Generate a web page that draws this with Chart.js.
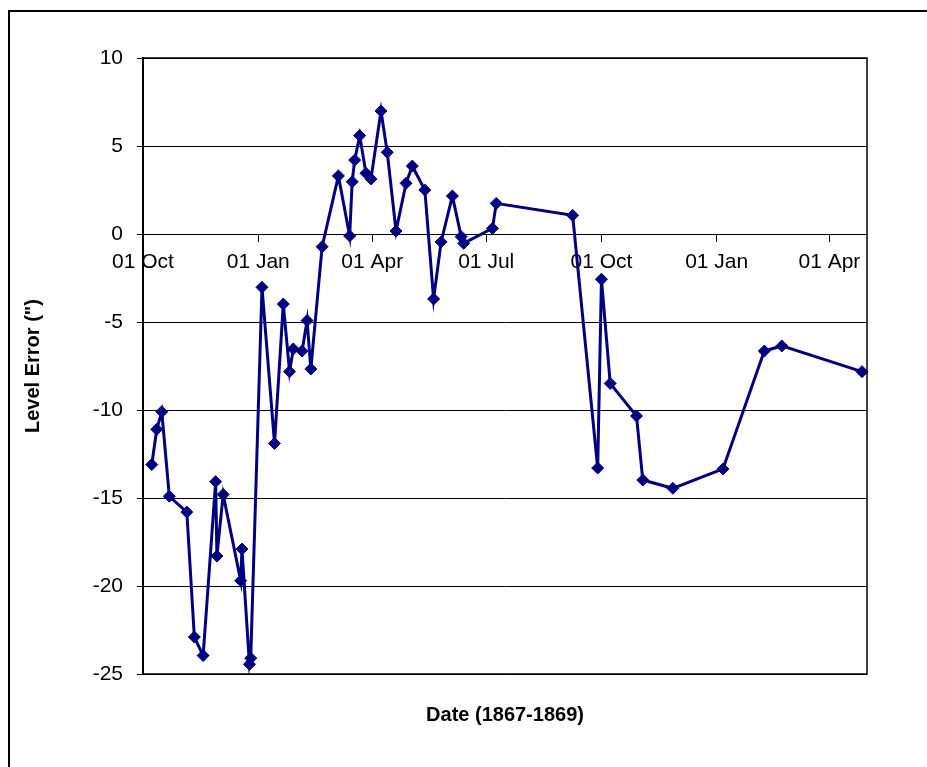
<!DOCTYPE html>
<html>
<head>
<meta charset="utf-8">
<script src="https://cdn.jsdelivr.net/npm/chart.js@4/dist/chart.umd.min.js"></script>
<style>
  html, body { margin: 0; padding: 0; background: #fff; overflow: hidden; }
  #frame { position: absolute; left: 8px; top: 10px; width: 1000px; height: 1000px;
           border-left: 2px solid #000; border-top: 2px solid #000; }
  #chart { position: absolute; left: 0; top: 0; }
</style>
</head>
<body>
<div id="frame"></div>
<canvas id="chart" width="927" height="767"></canvas>
<script>
// Observation dates and level error (seconds of arc)
const obsDates = [
  '1867-10-08', '1867-10-12', '1867-10-16', '1867-10-22', '1867-11-05', '1867-11-11',
  '1867-11-18', '1867-11-28', '1867-11-29', '1867-12-04', '1867-12-18', '1867-12-19',
  '1867-12-25', '1867-12-26', '1868-01-04', '1868-01-14', '1868-01-21', '1868-01-26',
  '1868-01-29', '1868-02-05', '1868-02-09', '1868-02-12', '1868-02-21', '1868-03-05',
  '1868-03-14', '1868-03-16', '1868-03-18', '1868-03-22', '1868-03-27', '1868-03-31',
  '1868-04-08', '1868-04-13', '1868-04-20', '1868-04-28', '1868-05-03', '1868-05-13',
  '1868-05-20', '1868-05-26', '1868-06-04', '1868-06-11', '1868-06-13', '1868-07-06',
  '1868-07-09', '1868-09-08', '1868-09-28', '1868-10-01', '1868-10-08', '1868-10-29',
  '1868-11-03', '1868-11-27', '1869-01-06', '1869-02-08', '1869-02-22', '1869-04-27'
];
const levelError = [
  -13.1, -11.1, -10.1, -14.9, -15.8, -22.9,
  -23.95, -14.07, -18.3, -14.8, -19.7, -17.9,
  -24.45, -24.1, -3.03, -11.9, -3.98, -7.82,
  -6.53, -6.65, -4.92, -7.67, -0.72, 3.3,
  -0.11, 2.97, 4.2, 5.59, 3.45, 3.13,
  6.99, 4.64, 0.17, 2.88, 3.86, 2.5,
  -3.69, -0.45, 2.16, -0.15, -0.53, 0.32,
  1.74, 1.06, -13.3, -2.57, -8.49, -10.34,
  -13.98, -14.45, -13.35, -6.65, -6.36, -7.82
];

// Axis ticks
const tickDates = ['1867-10-01', '1868-01-01', '1868-04-01', '1868-07-01', '1868-10-01', '1869-01-01', '1869-04-01'];
const tickLabels = ['01 Oct', '01 Jan', '01 Apr', '01 Jul', '01 Oct', '01 Jan', '01 Apr'];
const axisStart = '1867-10-01';
const axisEnd = '1869-05-01';
const yTicks = [-25, -20, -15, -10, -5, 0, 5, 10];

// days since axis start
const toDay = s => {
  const [y, m, d] = s.split('-').map(Number);
  const [y0, m0, d0] = axisStart.split('-').map(Number);
  return (Date.UTC(y, m - 1, d) - Date.UTC(y0, m0 - 1, d0)) / 86400000;
};
const tickDays = tickDates.map(toDay);

const font = 'Liberation Sans, Arial, sans-serif';
const navy = '#000080';

const frameBox = {
  id: 'frameBox',
  afterDraw(chart) {
    const { ctx, chartArea: a } = chart;
    ctx.save();
    ctx.strokeStyle = '#000';
    ctx.lineWidth = 1.5;
    ctx.strokeRect(a.left, a.top, a.right - a.left, a.bottom - a.top);
    ctx.restore();
  }
};

new Chart(document.getElementById('chart'), {
  type: 'line',
  data: {
    datasets: [{
      data: obsDates.map((d, i) => ({ x: toDay(d), y: levelError[i] })),
      borderColor: navy,
      backgroundColor: navy,
      borderWidth: 3,
      pointStyle: 'rectRot',
      pointRadius: 6,
      pointBorderWidth: 1,
      pointBackgroundColor: navy,
      pointBorderColor: navy,
      tension: 0,
      clip: false
    }]
  },
  options: {
    responsive: false,
    animation: false,
    layout: { padding: { top: 58, right: 60, left: 0, bottom: 0 } },
    plugins: { legend: { display: false }, tooltip: { enabled: false } },
    scales: {
      x: {
        type: 'linear',
        position: { y: 0 },
        min: 0,
        max: toDay(axisEnd),
        afterBuildTicks: s => { s.ticks = tickDays.map(v => ({ value: v })); },
        ticks: {
          autoSkip: false,
          maxRotation: 0,
          padding: 9,
          color: '#000',
          font: { family: font, size: 21 },
          callback: v => tickLabels[tickDays.indexOf(v)]
        },
        grid: { drawOnChartArea: false, drawTicks: true, tickLength: 7, color: '#000', lineWidth: 1 },
        border: { display: true, color: '#000', width: 1 }
      },
      x2: {
        type: 'linear',
        axis: 'x',
        position: 'bottom',
        min: 0,
        max: toDay(axisEnd),
        ticks: { display: false },
        grid: { display: false },
        border: { display: false },
        title: {
          display: true,
          text: 'Date (1867-1869)',
          color: '#000',
          font: { family: font, size: 20, weight: 'bold' },
          padding: { top: 0, bottom: 40 }
        },
        afterFit: s => { s.height = 93; }
      },
      y: {
        min: -25,
        max: 10,
        afterBuildTicks: s => { s.ticks = yTicks.map(v => ({ value: v })); },
        ticks: {
          padding: 14,
          color: '#000',
          font: { family: font, size: 21 }
        },
        grid: { color: '#000', lineWidth: 1, tickLength: 6 },
        border: { display: true, color: '#000', width: 2 },
        title: {
          display: true,
          text: 'Level Error (")',
          color: '#000',
          font: { family: font, size: 20, weight: 'bold' },
          padding: { top: 21, bottom: 0 }
        },
        afterFit: s => { s.width = 143; }
      }
    }
  },
  plugins: [frameBox]
});
</script>
</body>
</html>
